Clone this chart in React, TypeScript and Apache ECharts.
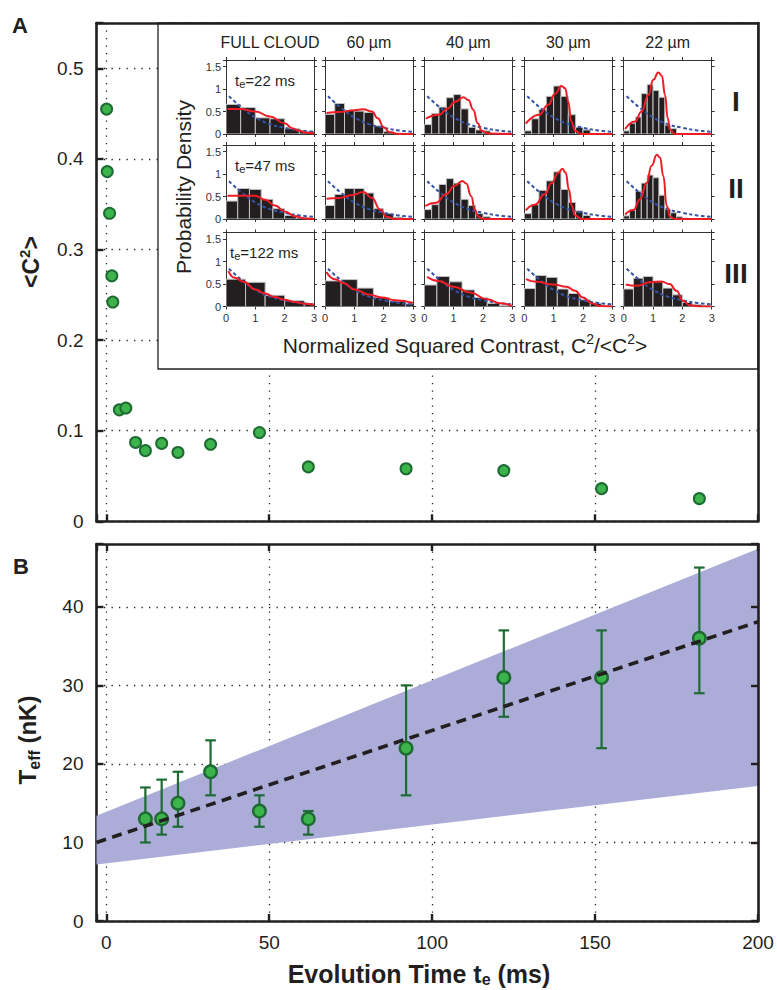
import React, { useEffect, useRef } from "react";
import * as echarts from "echarts";

const FONT = '"Liberation Sans", Arial, Helvetica, sans-serif';
const INK = "#231f20";
const GREEN = "#3cb44b";
const DKGREEN = "#1d6b33";
const RED = "#ee1c25";
const BLUE = "#3453a4";
const BAND = "#abacd8";

// ---------- Panel A : <C^2> versus evolution time ----------
const tA = [0.1, 0.3, 1, 1.7, 2, 4, 6, 9, 12, 17, 22, 32, 47, 62, 92, 122, 152, 182];
const c2A = [0.455, 0.386, 0.34, 0.271, 0.242, 0.123, 0.125, 0.087, 0.078, 0.086, 0.076, 0.085, 0.098, 0.06, 0.058, 0.056, 0.036, 0.025];
const annotText = ["I", "II", "III"];
const annotT = [22, 47.3, 122.3];
const annotC2 = [0.1035, 0.123, 0.08];
const yTicksA = [0, 0.1, 0.2, 0.3, 0.4, 0.5];

// ---------- Panel B : T_eff versus evolution time ----------
const tB = [12, 17, 22, 32, 47, 62, 92, 122, 152, 182];
const TB = [13, 13, 15, 19, 14, 13, 22, 31, 31, 36];
const TBlo = [10, 11, 12, 16, 12, 11, 16, 26, 22, 29];
const TBhi = [17, 18, 19, 23, 16, 14, 30, 37, 37, 45];
const fitT = [-3, 200];
const fitTeff = [10.0, 38.1];
const bandT = [-3, 200];
const bandLow = [7.2, 17.2];
const bandHigh = [13.4, 47.4];
const yTicksB = [0, 10, 20, 30, 40];

// ---------- Inset : histograms ----------
const insetCols = ["FULL CLOUD", "60 µm", "40 µm", "30 µm", "22 µm"];
const insetRows = ["I", "II", "III"];
const insetTimes = ["22", "47", "122"];
const histBinWidth = [
  [0.5, 0.333, 0.25, 0.25, 0.2],
  [0.4, 0.333, 0.25, 0.25, 0.2],
  [0.667, 0.55, 0.429, 0.375, 0.333],
];
const histHeights = [
  [
    [0.66, 0.59, 0.36, 0.34, 0.12, 0.06],
    [0.44, 0.68, 0.53, 0.51, 0.48, 0.18, 0.06, 0.02, 0],
    [0.21, 0.46, 0.6, 0.81, 0.88, 0.56, 0.15, 0.09, 0.07, 0, 0, 0],
    [0.07, 0.34, 0.55, 0.84, 1.07, 0.84, 0.43, 0.15, 0.09, 0, 0, 0],
    [0.07, 0.24, 0.38, 0.9, 1.1, 0.97, 0.82, 0.2, 0.12, 0, 0, 0, 0, 0, 0],
  ],
  [
    [0.4, 0.68, 0.66, 0.44, 0.23, 0.08, 0.03],
    [0.3, 0.55, 0.68, 0.68, 0.58, 0.23, 0.12, 0.04, 0],
    [0.21, 0.32, 0.77, 0.9, 0.8, 0.44, 0.3, 0.12, 0.05, 0, 0, 0],
    [0.12, 0.32, 0.64, 0.85, 1.05, 0.66, 0.37, 0.18, 0.08, 0, 0, 0],
    [0.07, 0.2, 0.62, 0.8, 0.98, 0.92, 0.53, 0.22, 0.14, 0.05, 0.02, 0, 0, 0, 0],
  ],
  [
    [0.61, 0.54, 0.25, 0.13, 0.06],
    [0.57, 0.6, 0.41, 0.2, 0.12, 0.06],
    [0.48, 0.67, 0.55, 0.37, 0.2, 0.07, 0.02],
    [0.4, 0.69, 0.65, 0.39, 0.29, 0.15, 0.07, 0.02],
    [0.39, 0.63, 0.67, 0.55, 0.41, 0.26, 0.09, 0.04, 0.02],
  ],
];
// red model curves (x = C^2/<C^2>, y = probability density)
const fitX = [
  [
    [0.05, 0.5, 1, 1.5, 2, 2.25, 2.5, 2.75, 3],
    [0.05, 0.5, 1, 1.3, 1.6, 1.8, 2, 2.2, 2.5, 3],
    [0.05, 0.5, 0.8, 1.05, 1.33, 1.5, 1.67, 1.82, 1.96, 2.2, 3],
    [0.05, 0.5, 0.82, 1.05, 1.27, 1.39, 1.5, 1.6, 1.73, 1.95, 3],
    [0.05, 0.39, 0.61, 0.84, 1.01, 1.18, 1.3, 1.41, 1.5, 1.58, 1.75, 3],
  ],
  [
    [0.05, 0.5, 1, 1.33, 1.67, 2, 2.35, 2.7, 3],
    [0.05, 0.48, 0.91, 1.31, 1.6, 1.88, 2.1, 2.4, 3],
    [0.03, 0.4, 0.74, 1.03, 1.3, 1.43, 1.6, 1.72, 1.83, 2, 3],
    [0.05, 0.36, 0.7, 0.93, 1.16, 1.3, 1.41, 1.52, 1.62, 1.73, 1.96, 3],
    [0.05, 0.33, 0.56, 0.78, 0.95, 1.13, 1.24, 1.35, 1.47, 1.58, 1.75, 3],
  ],
  [
    [0.08, 0.3, 0.6, 1, 1.33, 1.67, 2, 2.35, 2.7, 3],
    [0.05, 0.34, 0.63, 1.02, 1.48, 1.94, 2.4, 3],
    [0.1, 0.49, 1, 1.57, 2.14, 2.6, 3],
    [0.06, 0.42, 0.99, 1.44, 1.73, 2, 2.3, 2.58, 3],
    [0.07, 0.43, 0.89, 1.28, 1.57, 1.8, 2.02, 2.25, 2.6, 3],
  ],
];
const fitY = [
  [
    [0.56, 0.56, 0.5, 0.39, 0.24, 0.13, 0.07, 0.03, 0.01],
    [0.47, 0.49, 0.53, 0.55, 0.5, 0.35, 0.15, 0.04, 0, 0],
    [0.34, 0.43, 0.57, 0.72, 0.82, 0.76, 0.54, 0.24, 0.07, 0.01, 0],
    [0.23, 0.43, 0.65, 0.9, 1.07, 1.02, 0.72, 0.28, 0.07, 0, 0],
    [0.11, 0.28, 0.5, 0.87, 1.21, 1.37, 1.3, 0.87, 0.35, 0.09, 0, 0],
  ],
  [
    [0.52, 0.52, 0.52, 0.43, 0.3, 0.17, 0.06, 0.01, 0],
    [0.45, 0.47, 0.53, 0.6, 0.47, 0.21, 0.05, 0, 0],
    [0.29, 0.36, 0.55, 0.74, 0.85, 0.79, 0.51, 0.21, 0.06, 0, 0],
    [0.19, 0.32, 0.55, 0.8, 1.03, 1.12, 1.03, 0.66, 0.29, 0.08, 0, 0],
    [0.1, 0.2, 0.44, 0.8, 1.19, 1.43, 1.37, 0.96, 0.29, 0.05, 0, 0],
  ],
  [
    [0.79, 0.64, 0.55, 0.38, 0.29, 0.21, 0.15, 0.1, 0.06, 0.04],
    [0.77, 0.61, 0.52, 0.38, 0.27, 0.2, 0.14, 0.08],
    [0.66, 0.57, 0.44, 0.31, 0.16, 0.07, 0.01],
    [0.61, 0.55, 0.49, 0.44, 0.35, 0.2, 0.07, 0.01, 0],
    [0.49, 0.46, 0.54, 0.56, 0.5, 0.35, 0.13, 0.03, 0, 0],
  ],
];
// blue dashed reference curve (same in every panel)
const refX = [0.1, 0.5, 1, 1.5, 2, 2.5, 3];
const refY = [0.84, 0.61, 0.37, 0.22, 0.14, 0.08, 0.05];

// ---------- layout ----------
const colLeft = [226, 325, 424.3, 524.3, 623.7];
const rowTop = [60, 145, 232.5];
const cellW = 88;
const cellH = 74;

function buildOption() {
  const grids: any[] = [];
  const xAxes: any[] = [];
  const yAxes: any[] = [];
  const series: any[] = [];

  const dotted = { show: true, lineStyle: { color: INK, width: 1.3, type: [1.3, 6.2] } };
  const thickLine = { show: true, onZero: false, lineStyle: { color: INK, width: 2.6 } };
  const inTick = { show: true, inside: true, length: 7, lineStyle: { color: INK, width: 2.4 } };
  const tickFont = { fontFamily: FONT, fontSize: 19, color: INK };
  const gridBase = { outerBoundsMode: "none", containLabel: false };

  // ----- Panel A (grid 0) -----
  grids.push({ ...gridBase, left: 96.5, top: 23, width: 661.5, height: 498.3 });
  xAxes.push({
    gridIndex: 0, type: "value", position: "bottom", min: -3, max: 200, splitNumber: 4,
    axisLine: thickLine, axisTick: inTick, axisLabel: { show: false }, splitLine: dotted,
  });
  xAxes.push({
    gridIndex: 0, type: "value", position: "top", min: -3, max: 200, splitNumber: 4, z: 6,
    axisLine: thickLine, axisTick: { show: false }, axisLabel: { show: false }, splitLine: { show: false },
  });
  yAxes.push({
    gridIndex: 0, type: "value", position: "left", min: 0, max: 0.55, interval: 0.1,
    axisLine: thickLine, axisTick: inTick, splitLine: dotted,
    axisLabel: {
      ...tickFont, margin: 13,
      formatter: (v: number) => {
        const k = yTicksA.findIndex((t) => Math.abs(t - v) < 1e-6);
        return k < 0 ? "" : String(yTicksA[k]);
      },
    },
  });
  yAxes.push({
    gridIndex: 0, type: "value", position: "right", min: 0, max: 0.55, interval: 0.1, z: 6,
    axisLine: thickLine, axisTick: { show: false }, axisLabel: { show: false }, splitLine: { show: false },
  });

  // ----- Panel B (grid 1) -----
  grids.push({ ...gridBase, left: 96.5, top: 544, width: 661.5, height: 377 });
  xAxes.push({
    gridIndex: 1, type: "value", position: "bottom", min: -3, max: 200, splitNumber: 4,
    axisLine: thickLine, axisTick: inTick, splitLine: dotted,
    axisLabel: { ...tickFont, margin: 12, formatter: (v: number) => (v < 0 ? "" : String(v)) },
  });
  xAxes.push({
    gridIndex: 1, type: "value", position: "top", min: -3, max: 200, splitNumber: 4, z: 6,
    axisLine: thickLine, axisTick: inTick, axisLabel: { show: false }, splitLine: { show: false },
  });
  yAxes.push({
    gridIndex: 1, type: "value", position: "left", min: 0, max: 48, interval: 10,
    axisLine: thickLine, axisTick: inTick, splitLine: dotted,
    axisLabel: { ...tickFont, margin: 13, formatter: (v: number) => (yTicksB.includes(v) ? String(v) : "") },
  });
  yAxes.push({
    gridIndex: 1, type: "value", position: "right", min: 0, max: 48, interval: 10, z: 6,
    axisLine: thickLine, axisTick: inTick, axisLabel: { show: false }, splitLine: { show: false },
  });

  // Panel A series
  series.push({
    type: "scatter", xAxisIndex: 0, yAxisIndex: 0, z: 3,
    data: tA.map((t, i) => [t, c2A[i]]),
    symbolSize: 11,
    itemStyle: { color: GREEN, borderColor: DKGREEN, borderWidth: 2, opacity: 1 },
  });
  series.push({
    type: "scatter", xAxisIndex: 0, yAxisIndex: 0, z: 3,
    data: annotT.map((t, i) => [t, annotC2[i]]),
    symbolSize: 1,
    itemStyle: { opacity: 0 },
    label: {
      show: true, position: "inside",
      formatter: (p: any) => annotText[p.dataIndex],
      fontFamily: FONT, fontSize: 28, fontWeight: "bold", color: INK,
    },
  });

  // Panel B series
  series.push({
    type: "custom", xAxisIndex: 2, yAxisIndex: 2, z: 1,
    data: bandT.map((t, i) => [t, bandLow[i], bandHigh[i]]),
    encode: { x: 0, y: [1, 2] },
    renderItem: (params: any, api: any) => {
      if (params.dataIndex !== 0) return null;
      const up = bandT.map((t, i) => api.coord([t, bandHigh[i]]));
      const lo = bandT.map((t, i) => api.coord([t, bandLow[i]])).reverse();
      return { type: "polygon", shape: { points: up.concat(lo) }, style: { fill: BAND } };
    },
  });
  series.push({
    type: "custom", xAxisIndex: 2, yAxisIndex: 2, z: 2,
    data: tB.map((t, i) => [t, TBlo[i], TBhi[i]]),
    encode: { x: 0, y: [1, 2] },
    renderItem: (params: any, api: any) => {
      const t = api.value(0);
      const a = api.coord([t, api.value(1)]);
      const b = api.coord([t, api.value(2)]);
      const cap = 5.3;
      const st = { stroke: DKGREEN, lineWidth: 2.2 };
      return {
        type: "group",
        children: [
          { type: "line", shape: { x1: a[0], y1: a[1], x2: b[0], y2: b[1] }, style: st },
          { type: "line", shape: { x1: a[0] - cap, y1: a[1], x2: a[0] + cap, y2: a[1] }, style: st },
          { type: "line", shape: { x1: b[0] - cap, y1: b[1], x2: b[0] + cap, y2: b[1] }, style: st },
        ],
      };
    },
  });
  series.push({
    type: "scatter", xAxisIndex: 2, yAxisIndex: 2, z: 3,
    data: tB.map((t, i) => [t, TB[i]]),
    symbolSize: 12.5,
    itemStyle: { color: GREEN, borderColor: DKGREEN, borderWidth: 2.4, opacity: 1 },
  });
  series.push({
    type: "line", xAxisIndex: 2, yAxisIndex: 2, z: 4,
    data: fitT.map((t, i) => [t, fitTeff[i]]),
    symbol: "none",
    lineStyle: { color: INK, width: 3.6, type: [10, 6.5] },
  });

  // ----- Inset grids -----
  const thin = { show: true, onZero: false, lineStyle: { color: "#333", width: 1 } };
  const outTick = { show: true, inside: false, length: 3, lineStyle: { color: "#333", width: 1 } };
  const smallFont = { fontFamily: FONT, fontSize: 11, color: "#333" };
  for (let r = 0; r < 3; r++) {
    for (let c = 0; c < 5; c++) {
      const gi = grids.length;
      grids.push({ ...gridBase, left: colLeft[c], top: rowTop[r], width: cellW, height: cellH });
      const xi = xAxes.length;
      xAxes.push({
        gridIndex: gi, type: "value", position: "bottom", min: 0, max: 3, interval: 1, z: 6,
        axisLine: thin, axisTick: outTick, splitLine: { show: false },
        axisLabel: r === 2 ? { ...smallFont, margin: 6 } : { show: false },
      });
      xAxes.push({
        gridIndex: gi, type: "value", position: "top", min: 0, max: 3, interval: 1, z: 6,
        axisLine: thin, axisTick: outTick, splitLine: { show: false }, axisLabel: { show: false },
      });
      const yi = yAxes.length;
      yAxes.push({
        gridIndex: gi, type: "value", position: "left", min: 0, max: 1.65, interval: 0.5, z: 6,
        axisLine: thin, axisTick: outTick, splitLine: { show: false },
        axisLabel: c === 0
          ? { ...smallFont, margin: 5, formatter: (v: number) => (v > 1.6 ? "" : String(v)) }
          : { show: false },
      });
      yAxes.push({
        gridIndex: gi, type: "value", position: "right", min: 0, max: 1.65, interval: 0.5, z: 6,
        axisLine: thin, axisTick: outTick, splitLine: { show: false }, axisLabel: { show: false },
      });
      const w = histBinWidth[r][c];
      series.push({
        type: "custom", xAxisIndex: xi, yAxisIndex: yi, z: 7, clip: true,
        data: histHeights[r][c].map((h, i) => [i * w, (i + 1) * w, h]),
        encode: { x: [0, 1], y: 2 },
        renderItem: (params: any, api: any) => {
          const h = api.value(2);
          if (!(h > 0)) return null;
          const p0 = api.coord([api.value(0), h]);
          const p1 = api.coord([api.value(1), 0]);
          return {
            type: "rect",
            shape: { x: p0[0], y: p0[1], width: p1[0] - p0[0], height: p1[1] - p0[1] },
            style: { fill: INK, stroke: "#c4c4c4", lineWidth: 1 },
          };
        },
      });
      series.push({
        type: "line", xAxisIndex: xi, yAxisIndex: yi, z: 8,
        data: refX.map((x, i) => [x, refY[i]]),
        symbol: "none", smooth: 0.4,
        lineStyle: { color: BLUE, width: 2, type: [3.5, 2.5] },
      });
      series.push({
        type: "line", xAxisIndex: xi, yAxisIndex: yi, z: 9,
        data: fitX[r][c].map((x, i) => [x, fitY[r][c][i]]),
        symbol: "none", smooth: 0.5, smoothMonotone: "x",
        lineStyle: { color: RED, width: 2 },
      });
    }
  }

  // ----- graphic texts -----
  const T = (x: number, y: number, style: any, extra: any = {}) => ({
    type: "text", x, y, z: 10, ...extra,
    style: { fill: INK, fontFamily: FONT, align: "center", verticalAlign: "middle", textAlign: "center", textVerticalAlign: "middle", ...style },
  });
  const graphics: any[] = [
    { type: "rect", z: 5, shape: { x: 158, y: 23, width: 600, height: 346 }, style: { fill: "#fff", stroke: INK, lineWidth: 1.3 } },
    T(20, 25, { text: "A", fontSize: 22, fontWeight: "bold" }),
    T(21, 566, { text: "B", fontSize: 22, fontWeight: "bold" }),
    T(31, 262, {
      text: "{a|<C}{s|2}{a|>}",
      rich: {
        a: { fontFamily: FONT, fontSize: 23, fontWeight: "bold", fill: INK, lineHeight: 28 },
        s: { fontFamily: FONT, fontSize: 15, fontWeight: "bold", fill: INK, lineHeight: 16, verticalAlign: "top" },
      },
    }, { rotation: Math.PI / 2 }),
    T(27, 740, {
      text: "{a|T}{s|eff}{a| (nK)}",
      rich: {
        a: { fontFamily: FONT, fontSize: 24, fontWeight: "bold", fill: INK, lineHeight: 30 },
        s: { fontFamily: FONT, fontSize: 16, fontWeight: "bold", fill: INK, lineHeight: 16, verticalAlign: "bottom" },
      },
    }, { rotation: Math.PI / 2 }),
    T(419, 974, {
      text: "{a|Evolution Time t}{s|e}{a| (ms)}",
      rich: {
        a: { fontFamily: FONT, fontSize: 25, fontWeight: "bold", fill: INK, lineHeight: 26 },
        s: { fontFamily: FONT, fontSize: 16, fontWeight: "bold", fill: INK, lineHeight: 14, verticalAlign: "bottom" },
      },
    }),
    T(183, 187, { text: "Probability Density", fontSize: 21 }, { rotation: Math.PI / 2 }),
    T(465, 345, {
      text: "{a|Normalized Squared Contrast, C}{s|2}{a|/<C}{s|2}{a|>}",
      rich: {
        a: { fontFamily: FONT, fontSize: 21, fill: INK, lineHeight: 26 },
        s: { fontFamily: FONT, fontSize: 14, fill: INK, lineHeight: 14, verticalAlign: "top" },
      },
    }),
  ];
  insetCols.forEach((name, c) => {
    graphics.push(T(colLeft[c] + cellW / 2, 42, { text: name, fontSize: 16 }));
  });
  const tagY = [101, 188, 273];
  insetRows.forEach((tag, r) => {
    graphics.push(T(736, tagY[r], { text: tag, fontSize: 28, fontWeight: "bold" }));
  });
  const teY = [80, 165, 252];
  insetTimes.forEach((t, r) => {
    graphics.push(T(r === 2 ? 230 : 235, teY[r], {
      text: `{a|t}{s|e}{a|=${t} ms}`,
      align: "left", textAlign: "left",
      rich: {
        a: { fontFamily: FONT, fontSize: 15, fill: INK, lineHeight: 19 },
        s: { fontFamily: FONT, fontSize: 11, fill: INK, lineHeight: 11, verticalAlign: "bottom" },
      },
    }));
  });

  return {
    animation: false,
    backgroundColor: "#fff",
    textStyle: { fontFamily: FONT },
    grid: grids,
    xAxis: xAxes,
    yAxis: yAxes,
    series,
    graphic: { elements: graphics },
  };
}

export default function App() {
  const ref = useRef<HTMLDivElement>(null);
  useEffect(() => {
    document.body.style.margin = "0";
    const chart = echarts.init(ref.current!, null, { renderer: "svg" });
    chart.setOption(buildOption() as any);
    return () => chart.dispose();
  }, []);
  return <div ref={ref} style={{ width: 777, height: 990 }} />;
}
